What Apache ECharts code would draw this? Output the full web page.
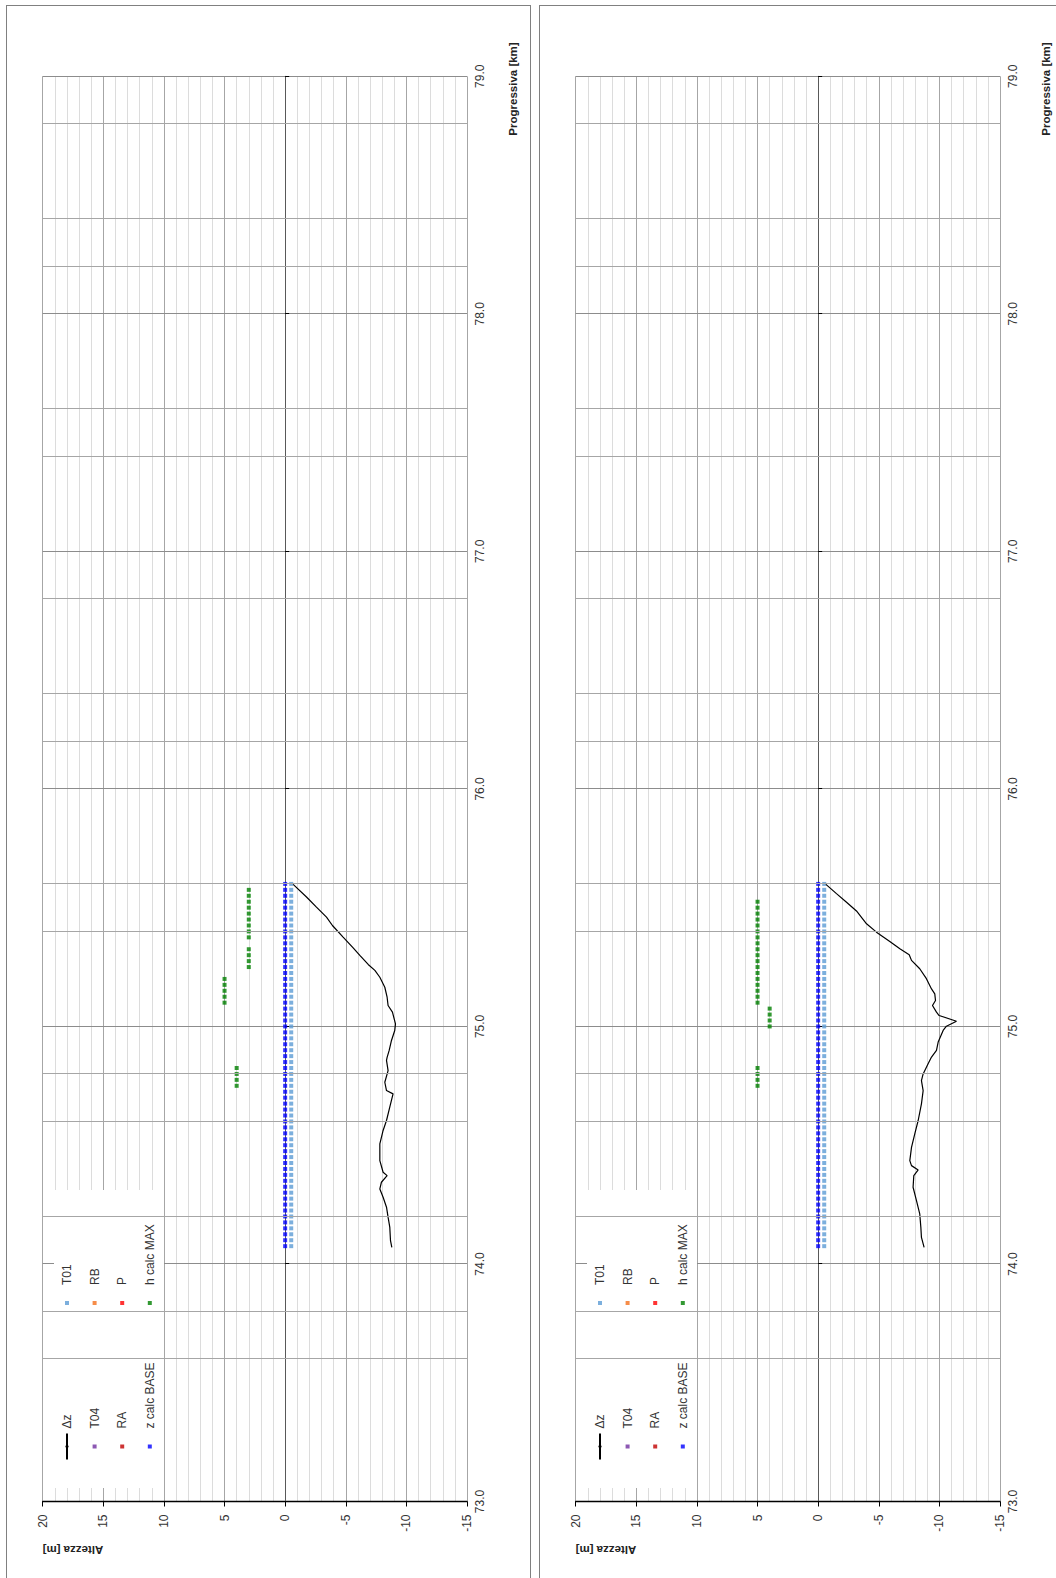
<!DOCTYPE html>
<html><head><meta charset="utf-8">
<script src="https://cdn.jsdelivr.net/npm/echarts@6/dist/echarts.min.js"></script>
<style>
html,body{margin:0;padding:0;width:1056px;height:1578px;overflow:hidden;background:#fff;}
.frame{position:absolute;border:1px solid #808080;border-bottom:none;box-sizing:border-box;}
.chart{position:absolute;width:1573px;height:524px;transform-origin:0 0;transform:rotate(-90deg);}
</style></head><body>
<div class="frame" style="left:6px;top:5px;width:525px;height:1600px;"></div>
<div class="frame" style="left:539px;top:5px;width:600px;height:1600px;"></div>
<div id="c1" class="chart" style="left:6px;top:1578px;"></div>
<div id="c2" class="chart" style="left:539px;top:1578px;"></div>
<script>
// ---------- data ----------
const seriesNames = ['Δz','T04','RA','z calc BASE','T01','RB','P','h calc MAX'];
const progTicks = [73, 74, 75, 76, 77, 78, 79];
const progMinorGrid = [73.6, 73.8, 74.2, 74.6, 74.8, 75.4, 75.6, 76.2, 76.4, 76.8, 77.4, 77.6, 78.2, 78.4, 78.8];

const kmStations = [
  74.075, 74.1, 74.125, 74.15, 74.175, 74.2, 74.225, 74.25, 74.275, 74.3,
  74.325, 74.35, 74.375, 74.4, 74.425, 74.45, 74.475, 74.5, 74.525, 74.55,
  74.575, 74.6, 74.625, 74.65, 74.675, 74.7, 74.725, 74.75, 74.775, 74.8,
  74.825, 74.85, 74.875, 74.9, 74.925, 74.95, 74.975, 75.0, 75.025, 75.05,
  75.075, 75.1, 75.125, 75.15, 75.175, 75.2, 75.225, 75.25, 75.275, 75.3,
  75.325, 75.35, 75.375, 75.4, 75.425, 75.45, 75.475, 75.5, 75.525, 75.55,
  75.575, 75.6];
const zCalcBase = [
  0,0,0,0,0,0,0,0,0,0, 0,0,0,0,0,0,0,0,0,0, 0,0,0,0,0,0,0,0,0,0,
  0,0,0,0,0,0,0,0,0,0, 0,0,0,0,0,0,0,0,0,0, 0,0,0,0,0,0,0,0,0,0, 0,0];
const t01Values = [
  -0.5,-0.5,-0.5,-0.5,-0.5,-0.5,-0.5,-0.5,-0.5,-0.5, -0.5,-0.5,-0.5,-0.5,-0.5,-0.5,-0.5,-0.5,-0.5,-0.5,
  -0.5,-0.5,-0.5,-0.5,-0.5,-0.5,-0.5,-0.5,-0.5,-0.5, -0.5,-0.5,-0.5,-0.5,-0.5,-0.5,-0.5,-0.5,-0.5,-0.5,
  -0.5,-0.5,-0.5,-0.5,-0.5,-0.5,-0.5,-0.5,-0.5,-0.5, -0.5,-0.5,-0.5,-0.5,-0.5,-0.5,-0.5,-0.5,-0.5,-0.5,
  -0.5,-0.5];

const dzLeftKm = [74.07, 74.098, 74.155, 74.197, 74.239, 74.281, 74.316, 74.344, 74.372, 74.386,
  74.435, 74.506, 74.562, 74.604, 74.66, 74.716, 74.73, 74.765, 74.814, 74.857,
  74.87, 74.899, 74.941, 74.983, 75.011, 75.06, 75.088, 75.123, 75.165, 75.207,
  75.236, 75.261, 75.299, 75.331, 75.376, 75.425, 75.46, 75.502, 75.545, 75.598];
const dzLeftVal = [-8.8, -8.69, -8.63, -8.49, -8.36, -8.08, -7.81, -7.94, -8.41, -8.08,
  -7.81, -7.81, -8.08, -8.36, -8.63, -8.9, -8.36, -8.22, -8.49, -8.36,
  -8.41, -8.58, -8.77, -9.04, -9.1, -8.85, -8.49, -8.41, -8.22, -7.81,
  -7.4, -6.85, -6.16, -5.61, -4.78, -3.9, -3.41, -2.58, -1.76, -0.66];

const dzRightKm = [74.07, 74.112, 74.155, 74.211, 74.267, 74.323, 74.372, 74.396, 74.414, 74.435,
  74.491, 74.548, 74.604, 74.674, 74.73, 74.772, 74.8, 74.843, 74.871, 74.899,
  74.934, 74.983, 75.001, 75.022, 75.046, 75.06, 75.088, 75.109, 75.137, 75.158,
  75.201, 75.243, 75.278, 75.302, 75.327, 75.358, 75.397, 75.432, 75.486, 75.523,
  75.559, 75.598];
const dzRightVal = [-8.74, -8.52, -8.47, -8.38, -8.11, -7.83, -7.89, -8.25, -7.7, -7.56,
  -7.7, -7.97, -8.25, -8.52, -8.66, -8.52, -8.66, -9.07, -9.35, -9.76,
  -9.9, -10.31, -10.58, -11.41, -9.98, -9.76, -9.43, -9.68, -9.62, -9.35,
  -8.93, -8.38, -7.7, -7.51, -6.74, -5.91, -4.81, -3.99, -3.16, -2.34,
  -1.51, -0.64];

const hMaxLeftKm = [74.75, 74.775, 74.8, 74.825, 75.1, 75.125, 75.15, 75.175, 75.2,
  75.25, 75.275, 75.3, 75.325, 75.375, 75.4, 75.425, 75.45, 75.475, 75.5, 75.525, 75.55, 75.575];
const hMaxLeftVal = [4, 4, 4, 4, 5, 5, 5, 5, 5,
  3, 3, 3, 3, 3, 3, 3, 3, 3, 3, 3, 3, 3];

const hMaxRightKm = [74.75, 74.775, 74.8, 74.825, 75.0, 75.025, 75.05, 75.075,
  75.1, 75.125, 75.15, 75.175, 75.2, 75.225, 75.25, 75.275, 75.3, 75.325,
  75.35, 75.375, 75.4, 75.425, 75.45, 75.475, 75.5, 75.525];
const hMaxRightVal = [5, 5, 5, 5, 4, 4, 4, 4,
  5, 5, 5, 5, 5, 5, 5, 5, 5, 5,
  5, 5, 5, 5, 5, 5, 5, 5];

// ---------- chart ----------
const FONT = "'Liberation Sans', Arial, sans-serif";
const colors = {
  'Δz': '#000000', 'T04': '#7030a0', 'RA': '#c00000', 'z calc BASE': '#0000ff',
  'T01': '#5b9bd5', 'RB': '#f4701c', 'P': '#ff0000', 'h calc MAX': '#008000'
};
const SQ = 'path://M0 0H10V10H0Z';
const ALT_MIN = -15, ALT_MAX = 20;
const GRID = { left: 76.5, top: 36.7, width: 1425.2, height: 424.3 };
// distance from bottom of plot (Altezza min) up to the Altezza = 0 line
const zeroOffset = GRID.height * (0 - ALT_MIN) / (ALT_MAX - ALT_MIN);

function pairs(xs, ys) { return xs.map((x, i) => [x, ys[i]]); }

function scatter(name, data) {
  return {
    name, type: 'scatter', data, symbol: 'rect', symbolSize: [4, 4],
    itemStyle: { color: colors[name] }, z: 3
  };
}

function legendBlock(names, left) {
  return {
    orient: 'vertical', left, top: 54, padding: 0,
    itemWidth: 26, itemHeight: 4, itemGap: 13.6, symbolKeepAspect: true,
    selectedMode: false,
    textStyle: { fontSize: 12, color: '#333', fontFamily: FONT, lineHeight: 14 },
    data: names.map(n => n === 'Δz' ? { name: n } : { name: n, icon: SQ })
  };
}

function makeOption(dzKm, dzVal, hKm, hVal) {
  const kmMin = progTicks[0], kmMax = progTicks[progTicks.length - 1];
  return {
    animation: false,
    backgroundColor: 'transparent',
    grid: Object.assign({ containLabel: false, outerBoundsMode: 'none' }, GRID),
    legend: [
      legendBlock(['Δz', 'T04', 'RA', 'z calc BASE'], 117.5),
      legendBlock(['T01', 'RB', 'P', 'h calc MAX'], 273)
    ],
    xAxis: [{
      type: 'value', min: kmMin, max: kmMax, interval: 1, position: 'bottom',
      axisLine: { show: false, onZero: false },
      axisTick: { show: false },
      axisLabel: { margin: 7, formatter: v => v.toFixed(1), fontSize: 12, color: '#333', fontFamily: FONT },
      splitLine: { show: true, lineStyle: { color: '#8c8c8c', width: 1 } }
    }, {
      type: 'value', min: kmMin, max: kmMax, interval: 1, position: 'bottom',
      offset: -zeroOffset,
      axisLine: { show: true, onZero: false, lineStyle: { color: '#595959', width: 1 } },
      axisTick: { show: true, length: 4, lineStyle: { color: '#000' } },
      axisLabel: { show: false },
      splitLine: { show: false }
    }],
    yAxis: {
      type: 'value', min: ALT_MIN, max: ALT_MAX, interval: 5,
      axisLine: { show: true, onZero: false, lineStyle: { color: '#000', width: 1.3 } },
      axisTick: { show: true, length: 5, lineStyle: { color: '#000' } },
      axisLabel: { margin: 13, fontSize: 12, color: '#333', fontFamily: FONT },
      splitLine: { show: true, lineStyle: { color: '#a6a6a6', width: 1 } },
      minorTick: { show: false, splitNumber: 5 },
      minorSplitLine: { show: true, lineStyle: { color: '#dcdcdc', width: 1 } }
    },
    graphic: [
      { type: 'rect', z: 3, shape: { x: 90, y: 48, width: 298, height: 110 }, style: { fill: '#fff' } },
      { type: 'text', z: 5, x: 28, y: 67, rotation: Math.PI / 2,
        style: { text: 'Altezza [m]', fontSize: 11.5, fontWeight: 'bold', fontFamily: FONT, fill: '#222',
                 align: 'center', verticalAlign: 'middle', textAlign: 'center', textVerticalAlign: 'middle' } },
      { type: 'text', z: 5, x: 1489, y: 507,
        style: { text: 'Progressiva [km]', fontSize: 11.5, fontWeight: 'bold', fontFamily: FONT, fill: '#222',
                 align: 'center', verticalAlign: 'middle', textAlign: 'center', textVerticalAlign: 'middle' } }
    ],
    series: [
      { name: 'grid-minor', type: 'line', data: [], z: 1, silent: true,
        markLine: { silent: true, symbol: ['none', 'none'], label: { show: false },
          lineStyle: { color: '#a6a6a6', type: 'solid', width: 1 },
          data: progMinorGrid.map(v => ({ xAxis: v })) } },
      { name: 'Δz', type: 'line', data: pairs(dzKm, dzVal), symbol: 'none', z: 4,
        lineStyle: { color: '#000', width: 1.2 }, itemStyle: { color: '#000' } },
      scatter('T04', []),
      scatter('RA', []),
      scatter('z calc BASE', pairs(kmStations, zCalcBase)),
      scatter('T01', pairs(kmStations, t01Values)),
      scatter('RB', []),
      scatter('P', []),
      scatter('h calc MAX', pairs(hKm, hVal))
    ]
  };
}

const c1 = echarts.init(document.getElementById('c1'), null, { renderer: 'svg' });
c1.setOption(makeOption(dzLeftKm, dzLeftVal, hMaxLeftKm, hMaxLeftVal));
const c2 = echarts.init(document.getElementById('c2'), null, { renderer: 'svg' });
c2.setOption(makeOption(dzRightKm, dzRightVal, hMaxRightKm, hMaxRightVal));
</script>
</body></html>
